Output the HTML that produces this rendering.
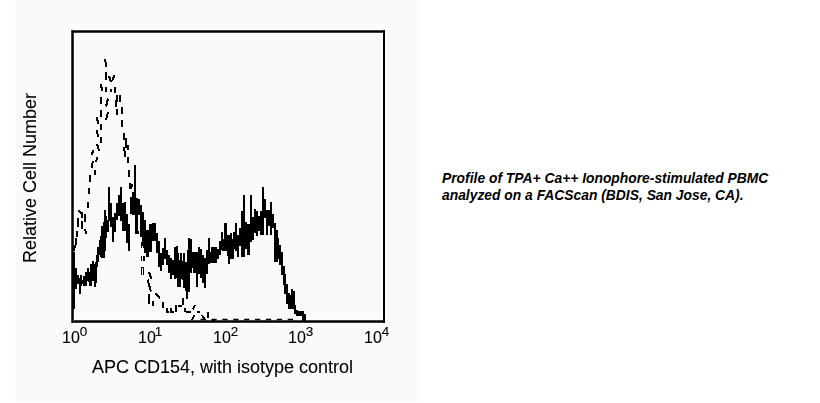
<!DOCTYPE html>
<html><head><meta charset="utf-8">
<style>
html,body{margin:0;padding:0;background:#fff;width:820px;height:403px;overflow:hidden;position:relative}
#panel{position:absolute;left:15px;top:0;width:404px;height:402px;background:#fafafa}
.t{position:absolute;will-change:transform;-webkit-text-stroke:0.1px #000;font-family:"Liberation Sans",sans-serif;color:#000;white-space:nowrap;line-height:1}
#ylab{left:0;top:0;font-size:18px;transform-origin:0 0;transform:translate(21px,263px) rotate(-90deg)}
#xlab{left:92px;top:358px;font-size:18px}
.tk{font-size:16px}
.tk sup{font-size:13.5px;position:relative;top:-7px;vertical-align:baseline;margin-left:0}
#cap{will-change:auto;-webkit-text-stroke:0;left:442px;top:170px;font-size:13.85px;font-weight:bold;font-style:italic;line-height:17px}
svg{position:absolute;left:0;top:0}
</style></head><body>
<div id="panel"></div>
<svg width="820" height="403" viewBox="0 0 820 403">
 <g id="frame" shape-rendering="crispEdges">
  <rect x="70" y="29" width="316" height="295" fill="none" stroke="#fff" stroke-width="0"/>
  <rect x="70" y="29" width="316" height="1" fill="#fff"/>
  <rect x="70" y="33" width="312" height="1" fill="#fff"/>
  <rect x="70" y="319" width="130" height="1" fill="#fff"/><rect x="300" y="319" width="83" height="1" fill="#fff"/>
  <rect x="70" y="323" width="316" height="1" fill="#fff"/>
  <rect x="70" y="29" width="1" height="295" fill="#fff"/>
  <rect x="74" y="33" width="1" height="287" fill="#fff"/>
  <rect x="382" y="33" width="1" height="287" fill="#fff"/>
  <rect x="385" y="29" width="1" height="295" fill="#fff"/>
  <rect x="71" y="30" width="314" height="1" fill="#444"/>
  <rect x="71" y="31" width="314" height="1" fill="#000"/>
  <rect x="71" y="32" width="314" height="1" fill="#3a3a3a"/>
  <rect x="71" y="320" width="314" height="1" fill="#444"/>
  <rect x="71" y="321" width="314" height="1" fill="#000"/>
  <rect x="71" y="322" width="314" height="1" fill="#3a3a3a"/>
  <rect x="71" y="30" width="1" height="293" fill="#444"/>
  <rect x="72" y="30" width="1" height="293" fill="#000"/>
  <rect x="73" y="32" width="1" height="290" fill="#3a3a3a"/>
  <rect x="383" y="30" width="2" height="293" fill="#000"/>
 </g>
 <path id="dash" fill="none" stroke="#000" stroke-width="2" shape-rendering="crispEdges" d="M105 59L106.3 67M105.8 72L106.3 80M109 76L111 82M114.5 75L112 81M101 84L102 90.7M106 87L106.3 92.4M110.6 89L110.6 92M115.3 87L115.3 93M101 96.7L101 103.5M108 98.6L106 106.6M117 95L117 101.7M120 95L120 101.7M115.6 100.4L115.6 106.6M101 110.4L101 116.6M108 112.2L106 119.7M117 108.5L117 114.7M122.3 107.3L122.3 113.5M97 116.6L98 124M101 124L101 130.2M122.3 119.7L122.3 127.1M97 130.2L98 137M101 137L101 143M123.8 133.3L123.8 139.5M126.3 138.3L126.3 145M97 143.7L99 151.2M93.5 150.4L91.5 154.9M97 157.1L96 162.3M92.7 160.8L92 168.3M95.5 170.5L94.5 175M90.4 175L90.4 181.7M89 187.6L89 194.3M126 140L126 148M127.7 145L127.7 150M124 147.4L125.3 157.1M128 157.1L128 163M129 169.8L129 176.5M129.5 183L130.5 189M132 184L131 189M131.5 197L131.5 203M87.7 201.8L87.7 207.6M78.5 210.3L81 213.5M81.5 212L82 217.6M85.3 214.4L85.3 221.6M78 217.6L78 227.3M81.5 220.8L82 228.9M85 228.9L86 233.7M76.6 231.3L76.6 236.9M76.4 237.7L76.4 243.4M76 241.8L75 248.2M74.5 246.6L74.2 250.6M149 272L151.5 279.3M147.5 279.6L151 291.5M149.4 293.5L149.4 304.4M155.5 293.5L160 298.5M153.3 301.4L153.3 306.4M162.9 301.9L162.9 308M167.4 308.4L167.4 312.3M166 311.5L168.7 311.5M170.6 308.4L170.6 312.3M170 311.5L174 311.5M176 305L176 311.5M178.3 305.8L181.7 305.8M182.5 298L182.5 305M184.7 308L184.7 312.3M186 312L190.9 312M195 305L193 309.3M194.5 315L192 320.2M197 312.3L200.4 312.3M202 315L205 320M208 311.5L208 317.5M212 319.5L215 319.5"/><path id="dthin" fill="none" stroke="#000" stroke-width="1.2" shape-rendering="crispEdges" d="M141.5 241.5L141.5 248M144 243L144 248M141.5 255.8L141.5 260.8M144 255.8L144 260.8M141.5 267.6L141.5 274.6M143.5 267.6L143.5 274.6M141 267.5L144 267.5"/><line x1="200.5" y1="319.5" x2="298" y2="319.5" stroke="#000" stroke-width="1.3" stroke-dasharray="5.3 5.6"/>
 <path id="solid" fill="#000" shape-rendering="crispEdges" d="M73 252H75V309H73zM75 268H77V289H75zM77 275H79V284H77zM79 278H81V294H79zM80 275H82V286H80zM82 280H84V284H82zM83 276H85V286H83zM85 272H87V286H85zM87 268H89V281H87zM88 275H90V282H88zM89 272H91V286H89zM90 264H92V286H90zM92 261H94V281H92zM93 265H95V280H93zM94 264H96V287H94zM95 262H97V283H95zM96 255H98V267H96zM97 247H99V262H97zM99 240H101V255H99zM100 236H102V257H100zM101 226H103V258H101zM102 226H104V249H102zM103 222H105V258H103zM104 210H106V251H104zM105 216H107V238H105zM107 220H109V232H107zM108 187H110V221H108zM110 203H112V227H110zM112 217H114V242H112zM114 213H116V232H114zM116 203H118V220H116zM118 195H120V216H118zM120 187H122V221H120zM122 203H124V231H122zM124 202H126V231H124zM126 214H128V243H126zM128 224H130V251H128zM130 197H132V214H130zM132 192H134V215H132zM134 165H136V215H134zM135 214H137V234H135zM136 198H138V234H136zM137 231H139V234H137zM136 199H140V215H136zM140 205H142V237H140zM142 212H144V246H142zM144 220H146V253H144zM146 230H149V257H146zM149 224H152V252H149zM152 223H156V241H152zM156 233H158V253H156zM158 241H160V267H158zM160 253H162V271H160zM162 248H164V265H162zM164 238H166V259H164zM166 250H168V265H166zM168 255H170V273H168zM170 258H172V279H170zM172 260H174V275H172zM174 247H176V279H174zM176 246H178V278H176zM177 253H179V287H177zM179 260H181V287H179zM180 253H182V279H180zM182 261H184V280H182zM183 253H185V288H183zM185 262H187V291H185zM186 262H188V299H186zM187 250H189V292H187zM188 238H190V292H188zM190 239H192V273H190zM191 252H193V268H191zM193 252H196V273H193zM196 252H198V287H196zM198 247H200V274H198zM200 249H202V278H200zM202 255H204V283H202zM204 258H206V288H204zM206 250H208V274H206zM208 238H210V264H208zM209 252H211V263H209zM211 247H214V263H211zM214 247H217V263H214zM217 249H219V259H217zM219 241H221V255H219zM221 232H223V250H221zM222 239H224V251H222zM224 223H227V251H224zM227 235H229V256H227zM228 235H230V264H228zM230 233H232V259H230zM232 239H234V259H232zM233 232H235V249H233zM235 223H237V251H235zM237 235H239V257H237zM239 228H241V246H239zM241 211H243V257H241zM243 195H245V257H243zM245 222H247V249H245zM247 224H250V255H247zM250 195H252V242H250zM252 217H254V240H252zM254 209H256V233H254zM256 211H258V236H256zM258 216H260V231H258zM260 211H262V235H260zM262 187H264V235H262zM264 199H266V218H264zM266 210H268V235H266zM268 210H270V226H268zM270 202H272V235H270zM272 214H274V228H272zM274 223H276V262H274zM276 230H278V262H276zM277 238H279V259H277zM279 245H281V265H279zM281 252H283V275H281zM283 266H285V285H283zM284 274H286V294H284zM286 284H288V304H286zM288 293H290V309H288zM290 295H292V309H290zM291 289H293V309H291zM293 291H295V309H293zM294 305H296V314H294zM296 310H298V316H296zM298 311H302V316H298zM302 311H304V321H302zM304 314H306V322H304z"/>
</svg>
<div class="t" id="ylab">Relative Cell Number</div>
<div class="t" id="xlab">APC CD154, with isotype control</div>
<div class="t tk" style="left:62px;top:330px">10<sup>0</sup></div>
<div class="t tk" style="left:138px;top:330px">10<sup style="margin-left:-1px">1</sup></div>
<div class="t tk" style="left:213px;top:330px">10<sup>2</sup></div>
<div class="t tk" style="left:288px;top:330px">10<sup>3</sup></div>
<div class="t tk" style="left:364px;top:330px">10<sup>4</sup></div>
<div class="t" id="cap">Profile of TPA+ Ca++ Ionophore-stimulated PBMC<br>analyzed on a FACScan (BDIS, San Jose, CA).</div>
</body></html>
